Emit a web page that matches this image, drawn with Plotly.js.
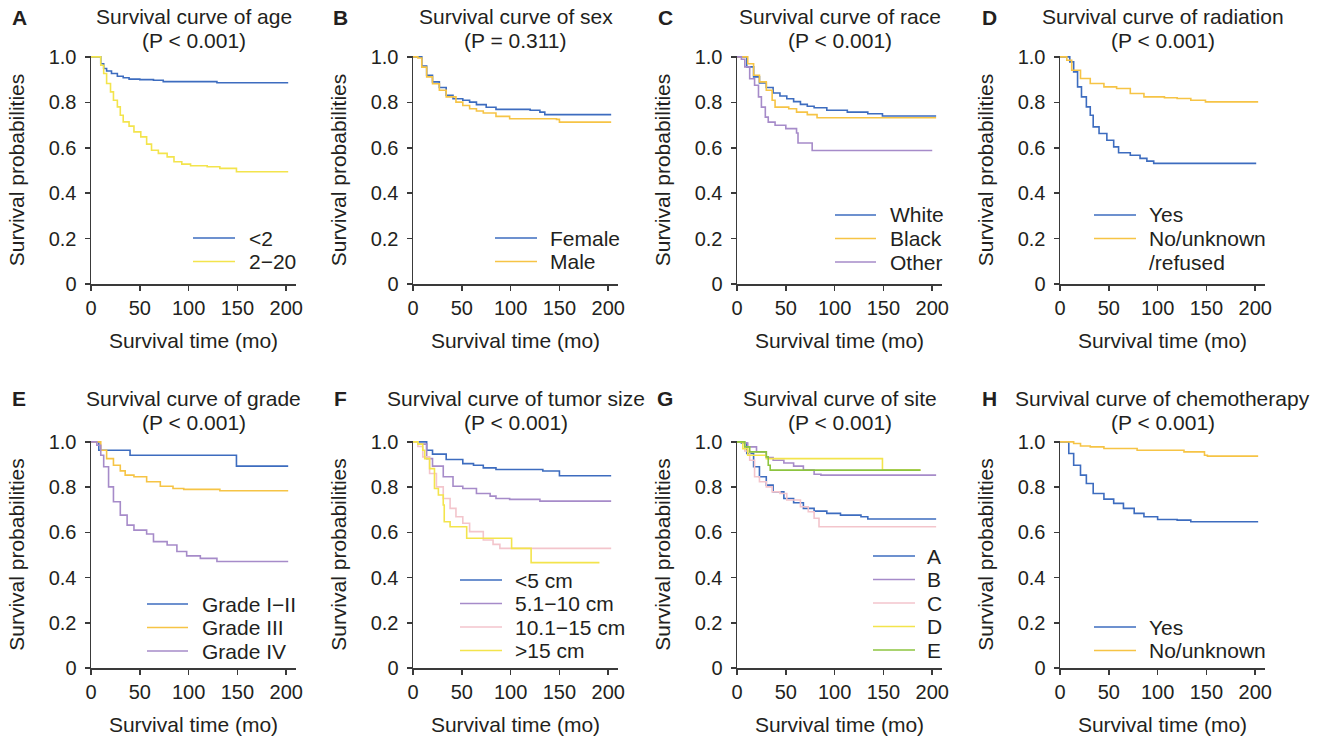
<!DOCTYPE html>
<html>
<head>
<meta charset="utf-8">
<script src="https://cdn.plot.ly/plotly-3.0.1.min.js"></script>
<style>
html, body { margin: 0; padding: 0; background: #ffffff; }
#chart { width: 1328px; height: 739px; }
</style>
</head>
<body>
<div id="chart"></div>
<script>
// ---------------- DATA ----------------
const panelLetters = ['A', 'B', 'C', 'D', 'E', 'F', 'G', 'H'];
const panelTitles = [
  'Survival curve of age', 'Survival curve of sex', 'Survival curve of race', 'Survival curve of radiation',
  'Survival curve of grade', 'Survival curve of tumor size', 'Survival curve of site', 'Survival curve of chemotherapy'
];
const pValues = ['(P < 0.001)', '(P = 0.311)', '(P < 0.001)', '(P < 0.001)', '(P < 0.001)', '(P < 0.001)', '(P < 0.001)', '(P < 0.001)'];

const xTitle = 'Survival time (mo)';
const yTitle = 'Survival probabilities';
const timeTickVals = [0, 50, 100, 150, 200];
const timeTickText = ['0', '50', '100', '150', '200'];
const survTickVals = [0, 0.2, 0.4, 0.6, 0.8, 1.0];
const survTickText = ['0', '0.2', '0.4', '0.6', '0.8', '1.0'];

// A: age
const ageGroups = ['<2', '2\u221220'];
const ageUnder2Time = [0, 4, 10, 13, 16, 21, 27, 33, 39, 50, 64, 74, 129, 202];
const ageUnder2Surv = [1.0, 1.0, 0.97, 0.949, 0.938, 0.927, 0.915, 0.908, 0.902, 0.9, 0.897, 0.891, 0.886, 0.886];
const age2to20Time = [0, 4, 10, 13, 16, 20, 23, 27, 30, 33, 39, 44, 51, 57, 62, 69, 78, 85, 93, 102, 119, 132, 149, 202];
const age2to20Surv = [1.0, 1.0, 0.963, 0.927, 0.883, 0.846, 0.809, 0.78, 0.743, 0.714, 0.695, 0.67, 0.648, 0.616, 0.589, 0.575, 0.56, 0.538, 0.528, 0.521, 0.516, 0.509, 0.494, 0.494];

// B: sex
const sexGroups = ['Female', 'Male'];
const femaleTime = [0, 5, 9, 14, 20, 27, 34, 41, 51, 58, 65, 75, 85, 120, 130, 135, 203];
const femaleSurv = [1.0, 1.0, 0.96, 0.919, 0.89, 0.865, 0.831, 0.816, 0.809, 0.801, 0.79, 0.778, 0.769, 0.765, 0.757, 0.746, 0.746];
const maleTime = [0, 5, 9, 14, 20, 27, 34, 44, 51, 58, 65, 72, 85, 99, 147, 150, 203];
const maleSurv = [1.0, 0.995, 0.955, 0.912, 0.882, 0.853, 0.824, 0.801, 0.786, 0.772, 0.762, 0.753, 0.738, 0.728, 0.725, 0.713, 0.713];

// C: race
const raceGroups = ['White', 'Black', 'Other'];
const whiteTime = [0, 4.5, 10, 17, 23, 30, 37, 44, 51, 58, 65, 72, 79, 92, 113, 134, 149, 204];
const whiteSurv = [1.0, 1.0, 0.956, 0.912, 0.885, 0.865, 0.841, 0.828, 0.816, 0.803, 0.791, 0.783, 0.776, 0.765, 0.757, 0.75, 0.74, 0.74];
const blackTime = [0, 6, 11, 17, 23, 30, 36, 39, 53, 61, 72, 82, 204];
const blackSurv = [1.0, 1.0, 0.97, 0.919, 0.89, 0.853, 0.809, 0.779, 0.772, 0.757, 0.746, 0.732, 0.732];
const otherRaceTime = [0, 4.5, 8, 13, 18, 22, 25, 29, 32, 39, 50, 61, 62.5, 77, 200];
const otherRaceSurv = [1.0, 0.99, 0.956, 0.904, 0.875, 0.824, 0.779, 0.735, 0.713, 0.699, 0.684, 0.665, 0.621, 0.588, 0.588];

// D: radiation
const radiationGroups = ['Yes', 'No/unknown<br>/refused'];
const radYesTime = [0, 7, 10, 14, 18, 22, 27, 31, 34, 40, 48, 55, 60, 72, 82, 89, 96, 201];
const radYesSurv = [1.0, 1.0, 0.978, 0.934, 0.868, 0.824, 0.78, 0.743, 0.692, 0.663, 0.633, 0.604, 0.578, 0.567, 0.553, 0.541, 0.531, 0.531];
const radNoTime = [0, 7, 12, 21, 31, 45, 58, 72, 86, 107, 120, 134, 149, 203];
const radNoSurv = [1.0, 0.985, 0.941, 0.905, 0.883, 0.868, 0.861, 0.839, 0.824, 0.82, 0.817, 0.809, 0.802, 0.802];

// E: grade
const gradeGroups = ['Grade I\u2212II', 'Grade III', 'Grade IV'];
const grade12Time = [0, 8, 40, 149, 202];
const grade12Surv = [1.0, 0.963, 0.941, 0.893, 0.893];
const grade3Time = [0, 4, 10, 16, 23, 30, 35, 44, 57, 71, 84, 95, 132, 202];
const grade3Surv = [1.0, 1.0, 0.963, 0.926, 0.897, 0.872, 0.853, 0.846, 0.824, 0.804, 0.794, 0.79, 0.784, 0.784];
const grade4Time = [0, 6, 10, 13, 18, 23, 30, 37, 44, 57, 64, 78, 88, 98, 112, 129, 202];
const grade4Surv = [1.0, 0.985, 0.941, 0.89, 0.801, 0.735, 0.676, 0.632, 0.61, 0.593, 0.559, 0.544, 0.515, 0.496, 0.485, 0.471, 0.471];

// F: tumor size
const sizeGroups = ['<5 cm', '5.1\u221210 cm', '10.1\u221215 cm', '>15 cm'];
const sizeLt5Time = [0, 5, 14, 20, 34, 51, 62, 72, 85, 133, 150, 203];
const sizeLt5Surv = [1.0, 1.0, 0.963, 0.946, 0.922, 0.904, 0.897, 0.885, 0.878, 0.871, 0.85, 0.85];
const size5to10Time = [0, 5, 14, 20, 31, 41, 51, 65, 79, 85, 99, 130, 203];
const size5to10Surv = [1.0, 0.99, 0.926, 0.893, 0.846, 0.804, 0.794, 0.772, 0.76, 0.75, 0.746, 0.738, 0.738];
const size10to15Time = [0, 5, 10, 17, 24, 31, 38, 44, 51, 58, 72, 82, 89, 203];
const size10to15Surv = [1.0, 0.98, 0.934, 0.86, 0.801, 0.75, 0.706, 0.669, 0.64, 0.603, 0.566, 0.547, 0.529, 0.529];
const sizeGt15Time = [0, 5, 10, 12, 17, 22, 26, 31, 32, 38, 55, 101, 121, 191];
const sizeGt15Surv = [1.0, 0.99, 0.963, 0.926, 0.882, 0.794, 0.765, 0.721, 0.647, 0.625, 0.574, 0.529, 0.466, 0.466];

// G: site
const siteGroups = ['A', 'B', 'C', 'D', 'E'];
const siteATime = [0, 4.5, 10, 17, 23, 30, 37, 48, 58, 68, 79, 92, 106, 127, 134, 204];
const siteASurv = [1.0, 0.995, 0.949, 0.89, 0.846, 0.809, 0.779, 0.75, 0.731, 0.706, 0.694, 0.684, 0.676, 0.669, 0.659, 0.659];
const siteBTime = [0, 6, 11, 20, 30, 37, 48, 58, 68, 79, 86, 204];
const siteBSurv = [1.0, 0.995, 0.978, 0.956, 0.931, 0.919, 0.907, 0.893, 0.875, 0.857, 0.853, 0.853];
const siteCTime = [0, 8, 13, 18, 23, 30, 36, 44, 51, 65, 73, 79, 84, 204];
const siteCSurv = [1.0, 0.96, 0.919, 0.846, 0.824, 0.801, 0.779, 0.772, 0.743, 0.713, 0.691, 0.662, 0.625, 0.625];
const siteDTime = [0, 6, 11, 30, 149, 188];
const siteDSurv = [1.0, 0.97, 0.941, 0.926, 0.875, 0.875];
const siteETime = [0, 8, 13, 30, 32, 34, 188];
const siteESurv = [1.0, 0.978, 0.956, 0.934, 0.897, 0.875, 0.875];

// H: chemotherapy
const chemoGroups = ['Yes', 'No/unknown'];
const chemoYesTime = [0, 3.4, 9, 14, 21, 27, 34, 45, 55, 65, 76, 86, 100, 120, 134, 203];
const chemoYesSurv = [1.0, 1.0, 0.949, 0.897, 0.853, 0.816, 0.772, 0.747, 0.728, 0.706, 0.684, 0.669, 0.657, 0.654, 0.647, 0.647];
const chemoNoTime = [0, 10, 14, 21, 31, 45, 79, 127, 148, 151, 203];
const chemoNoSurv = [1.0, 1.0, 0.993, 0.982, 0.978, 0.971, 0.963, 0.956, 0.941, 0.937, 0.937];

// ---------------- STYLE ----------------
const BLUE = '#3d6cbf', GOLD = '#f6c445', YELLOW = '#f3e44c', PURPLE = '#a68bc9', PINK = '#f3c5cc', GREEN = '#8cc43f';
const TEXT = '#231f20', AXIS = '#3a3a3a';
const FONT = 'Liberation Sans, Arial, Helvetica, sans-serif';

const panelSeries = [
  [[ageUnder2Time, ageUnder2Surv, BLUE], [age2to20Time, age2to20Surv, YELLOW]],
  [[femaleTime, femaleSurv, BLUE], [maleTime, maleSurv, GOLD]],
  [[whiteTime, whiteSurv, BLUE], [blackTime, blackSurv, GOLD], [otherRaceTime, otherRaceSurv, PURPLE]],
  [[radYesTime, radYesSurv, BLUE], [radNoTime, radNoSurv, GOLD]],
  [[grade12Time, grade12Surv, BLUE], [grade3Time, grade3Surv, GOLD], [grade4Time, grade4Surv, PURPLE]],
  [[sizeLt5Time, sizeLt5Surv, BLUE], [size5to10Time, size5to10Surv, PURPLE], [size10to15Time, size10to15Surv, PINK], [sizeGt15Time, sizeGt15Surv, YELLOW]],
  [[siteATime, siteASurv, BLUE], [siteBTime, siteBSurv, PURPLE], [siteCTime, siteCSurv, PINK], [siteDTime, siteDSurv, YELLOW], [siteETime, siteESurv, GREEN]],
  [[chemoYesTime, chemoYesSurv, BLUE], [chemoNoTime, chemoNoSurv, GOLD]]
];
const panelGroups = [ageGroups, sexGroups, raceGroups, radiationGroups, gradeGroups, sizeGroups, siteGroups, chemoGroups];

// ---------------- LAYOUT (pixel geometry) ----------------
const W = 1328, H = 739;
const colLeft = [91, 413, 737, 1060];
const plotW = 205;
const rowTop = [56, 441];
const rowBottom = [284, 668];
const letterX = [19, 341, 665, 989];
const titleY = [[17, 41], [398, 422]];
const letterY = [18, 398];
// legend geometry per panel: line start, line end, text x, first row center
const legendGeom = [
  [193, 235, 247, 238], [495, 537, 548, 238], [835, 876, 888, 215], [1094, 1136, 1147, 215],
  [147, 188, 200, 604], [460, 502, 513, 580], [873, 915, 925, 556], [1094, 1136, 1147, 627]
];
const legendStep = 23.5;

const px = v => v / W;
const py = v => 1 - v / H;

const traces = [];
const layout = {
  width: W, height: H,
  margin: {l: 0, r: 0, t: 0, b: 0},
  paper_bgcolor: '#ffffff', plot_bgcolor: '#ffffff',
  font: {family: FONT, color: TEXT, size: 20},
  showlegend: false,
  annotations: [], shapes: []
};

for (let i = 0; i < 8; i++) {
  const col = i % 4, row = Math.floor(i / 4);
  const xid = i === 0 ? 'x' : 'x' + (i + 1);
  const yid = i === 0 ? 'y' : 'y' + (i + 1);
  const xkey = i === 0 ? 'xaxis' : 'xaxis' + (i + 1);
  const ykey = i === 0 ? 'yaxis' : 'yaxis' + (i + 1);
  const x0 = colLeft[col], x1 = colLeft[col] + plotW;
  layout[xkey] = {
    domain: [px(x0), px(x1)], anchor: yid, range: [0, 210],
    tickmode: 'array', tickvals: timeTickVals, ticktext: timeTickText,
    ticks: 'outside', ticklen: 5, tickwidth: 1.5, tickcolor: AXIS,
    showline: true, linecolor: AXIS, linewidth: 1.5,
    showgrid: false, zeroline: false, fixedrange: true,
    tickfont: {family: FONT, size: 20, color: TEXT},
    title: {text: xTitle, font: {family: FONT, size: 21, color: TEXT}, standoff: 16}
  };
  layout[ykey] = {
    domain: [py(rowBottom[row]), py(rowTop[row])], anchor: xid, range: [0, 1.004],
    tickmode: 'array', tickvals: survTickVals, ticktext: survTickText,
    ticks: 'outside', ticklen: 5, tickwidth: 1.5, tickcolor: AXIS,
    showline: true, linecolor: AXIS, linewidth: 1.5,
    showgrid: false, zeroline: false, fixedrange: true,
    ticklabelstandoff: 4,
    tickfont: {family: FONT, size: 20, color: TEXT},
    title: {text: yTitle, font: {family: FONT, size: 21, color: TEXT}, standoff: 18}
  };

  panelSeries[i].forEach((s, j) => {
    traces.push({
      type: 'scatter', mode: 'lines', x: s[0], y: s[1],
      xaxis: xid, yaxis: yid, name: panelGroups[i][j].replace('<br>', ''),
      line: {shape: 'hv', color: s[2], width: 1.6},
      hoverinfo: 'skip', showlegend: false
    });
  });

  // panel letter
  layout.annotations.push({
    xref: 'paper', yref: 'paper', x: px(letterX[col]), y: py(letterY[row]),
    xanchor: 'center', yanchor: 'middle', showarrow: false,
    text: '<b>' + panelLetters[i] + '</b>', font: {family: FONT, size: 21, color: TEXT}
  });
  // title lines
  const cx = (x0 + x1) / 2;
  [panelTitles[i], pValues[i]].forEach((t, k) => {
    layout.annotations.push({
      xref: 'paper', yref: 'paper', x: px(cx), y: py(titleY[row][k]),
      xanchor: 'center', yanchor: 'middle', showarrow: false,
      text: t, font: {family: FONT, size: 21, color: TEXT}
    });
  });
  // legend
  const g = legendGeom[i];
  let rowIdx = 0;
  panelSeries[i].forEach((s, j) => {
    const yc = g[3] + rowIdx * legendStep;
    layout.shapes.push({
      type: 'line', xref: 'paper', yref: 'paper',
      x0: px(g[0]), x1: px(g[1]), y0: py(yc), y1: py(yc),
      line: {color: s[2], width: 1.6}
    });
    panelGroups[i][j].split('<br>').forEach((part, k) => {
      layout.annotations.push({
        xref: 'paper', yref: 'paper', x: px(g[2]), y: py(yc + k * legendStep),
        xanchor: 'left', yanchor: 'middle', showarrow: false,
        text: part, font: {family: FONT, size: 21, color: TEXT}
      });
      if (k > 0) rowIdx++;
    });
    rowIdx++;
  });
}

Plotly.newPlot('chart', traces, layout, {displayModeBar: false, staticPlot: true});
</script>
</body>
</html>
